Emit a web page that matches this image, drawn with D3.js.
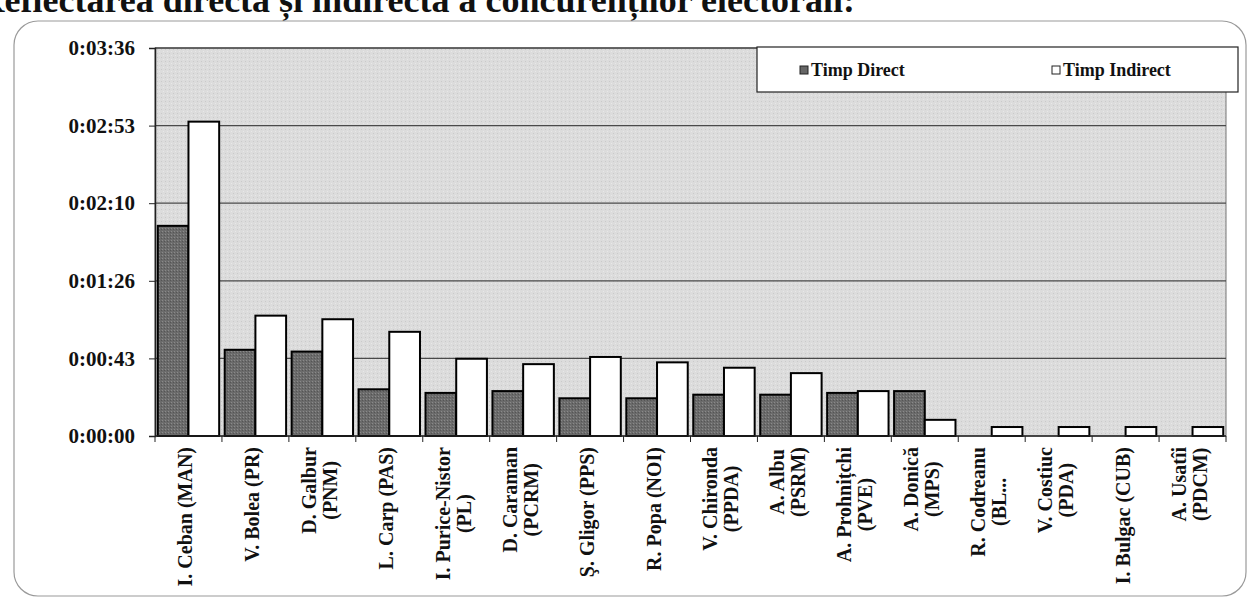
<!DOCTYPE html>
<html><head><meta charset="utf-8">
<script src="https://cdn.jsdelivr.net/npm/d3@7"></script>
<style>
body{margin:0;background:#fff;}
svg{display:block;font-family:"Liberation Serif","Times New Roman",serif;font-weight:bold;}
</style>
</head><body><svg id="c" width="1252" height="599"></svg>
<script>
const categories = [
  ["I. Ceban (MAN)"], ["V. Bolea (PR)"], ["D. Galbur", "(PNM)"], ["L. Carp (PAS)"],
  ["I. Purice-Nistor", "(PL)"], ["D. Caraman", "(PCRM)"], ["Ş. Gligor (PPS)"], ["R. Popa (NOI)"],
  ["V. Chironda", "(PPDA)"], ["A. Albu", "(PSRM)"], ["A. Prohnițchi", "(PVE)"], ["A. Donică", "(MPS)"],
  ["R. Codreanu", "(BL..."], ["V. Costiuc", "(PDA)"], ["I. Bulgac (CUB)"], ["A. Usatîi", "(PDCM)"]
];
// seconds
const timpDirect   = [117, 48, 47, 26, 24, 25, 21, 21, 23, 23, 24, 25, 0, 0, 0, 0];
const timpIndirect = [175, 67, 65, 58, 43, 40, 44, 41, 38, 35, 25, 9, 5, 5, 5, 5];
const seriesNames = ["Timp Direct", "Timp Indirect"];
const yTickValues = [0, 43.2, 86.4, 129.6, 172.8, 216];
const yTickLabels = ["0:00:00", "0:00:43", "0:01:26", "0:02:10", "0:02:53", "0:03:36"];
const titleText = "Reflectarea directă și indirectă a concurenților electorali:";

const svg = d3.select("#c");
const defs = svg.append("defs");
const pd = defs.append("pattern").attr("id","darkTex").attr("width",3).attr("height",3).attr("patternUnits","userSpaceOnUse");
pd.append("rect").attr("width",3).attr("height",3).attr("fill","#6b6b6b");
pd.append("rect").attr("x",0).attr("y",0).attr("width",1).attr("height",1).attr("fill","#8a8a8a");
pd.append("rect").attr("x",2).attr("y",1).attr("width",1).attr("height",1).attr("fill","#555");
const pb = defs.append("pattern").attr("id","bgTex").attr("width",4).attr("height",4).attr("patternUnits","userSpaceOnUse");
pb.append("rect").attr("width",4).attr("height",4).attr("fill","#dcdcdc");
pb.append("rect").attr("x",1).attr("y",1).attr("width",1).attr("height",1).attr("fill","#cacaca");
pb.append("rect").attr("x",3).attr("y",3).attr("width",1).attr("height",1).attr("fill","#e8e8e8");

// title (cropped at top edge, as in the scan)
svg.append("text").attr("x",855).attr("y",12).attr("text-anchor","end")
  .attr("font-size",36).attr("fill","#111").text(titleText);

// outer frame
svg.append("rect").attr("x",14).attr("y",21).attr("width",1232).attr("height",575)
  .attr("rx",24).attr("fill","#fff").attr("stroke","#9a9a9a").attr("stroke-width",1.2);

const m = {left:155, top:48, right:1226, bottom:436};
const x0 = d3.scaleBand().domain(d3.range(categories.length)).range([m.left, m.right]).paddingInner(0).paddingOuter(0);
const x1 = d3.scaleBand().domain([0,1]).range([0, x0.bandwidth()]).paddingOuter(0.09).paddingInner(0);
const y = d3.scaleLinear().domain([0, 216]).range([m.bottom, m.top]);

const g = svg.append("g");
g.append("rect").attr("x",m.left).attr("y",m.top).attr("width",m.right-m.left).attr("height",m.bottom-m.top)
  .attr("fill","url(#bgTex)").attr("stroke","#777").attr("stroke-width",1);

// gridlines
g.selectAll(".grid").data(yTickValues.slice(1)).join("line")
  .attr("x1",m.left).attr("x2",m.right).attr("y1",d=>y(d)).attr("y2",d=>y(d))
  .attr("stroke","#4a4a4a").attr("stroke-width",1.3);

// bars
const series = [timpDirect, timpIndirect];
const fills = ["url(#darkTex)", "#fff"];
series.forEach((vals, si) => {
  g.selectAll(".bar"+si).data(vals).join("rect")
    .attr("x",(d,i)=>x0(i)+x1(si))
    .attr("y",d=>y(d))
    .attr("width",x1.bandwidth())
    .attr("height",d=>y(0)-y(d))
    .attr("fill",fills[si])
    .attr("stroke","#000").attr("stroke-width",d=>d>0?2:0);
});

// axes
const yAxis = d3.axisLeft(y).tickValues(yTickValues).tickFormat((d,i)=>yTickLabels[i]).tickSize(6).tickPadding(14);
const ya = svg.append("g").attr("transform",`translate(${m.left},0)`).call(yAxis);
ya.select(".domain").attr("stroke","#222").attr("stroke-width",1.5);
ya.selectAll(".tick line").attr("stroke","#222");
ya.selectAll(".tick text").attr("font-size",21).attr("font-family","Liberation Serif, serif").attr("font-weight","bold").attr("fill","#111");

const boundaries = d3.range(categories.length+1).map(i => m.left + i*x0.step());
svg.append("line").attr("x1",m.left).attr("x2",m.right).attr("y1",m.bottom).attr("y2",m.bottom).attr("stroke","#222").attr("stroke-width",1.5);
svg.selectAll(".xt").data(boundaries).join("line")
  .attr("x1",d=>d).attr("x2",d=>d).attr("y1",m.bottom).attr("y2",m.bottom+6).attr("stroke","#222");

// x labels
const lineH = 21, topY = 447;
categories.forEach((lines, i) => {
  const cx = x0(i) + x0.bandwidth()/2;
  const grp = svg.append("g");
  const texts = lines.map((t, j) => grp.append("text").attr("font-size",20).attr("fill","#111").attr("text-anchor","middle").text(t));
  const maxW = d3.max(texts, t => t.node().getComputedTextLength());
  texts.forEach((t, j) => {
    const bx = cx + (j - (lines.length-1)/2)*lineH + 4;
    t.attr("transform",`translate(${bx},${topY + maxW/2}) rotate(-90)`);
  });
});

// legend
const lg = svg.append("g");
lg.append("rect").attr("x",757).attr("y",47).attr("width",481).attr("height",45)
  .attr("fill","#fff").attr("stroke","#222").attr("stroke-width",1.2);
const legX = [800, 1052];
seriesNames.forEach((n, i) => {
  lg.append("rect").attr("x",legX[i]).attr("y",66).attr("width",8).attr("height",8)
    .attr("fill", i===0 ? "#666" : "#fff").attr("stroke","#222").attr("stroke-width",1);
  lg.append("text").attr("x",legX[i]+11).attr("y",76).attr("font-size",18).attr("fill","#111").text(n);
});
</script>
</body></html>
